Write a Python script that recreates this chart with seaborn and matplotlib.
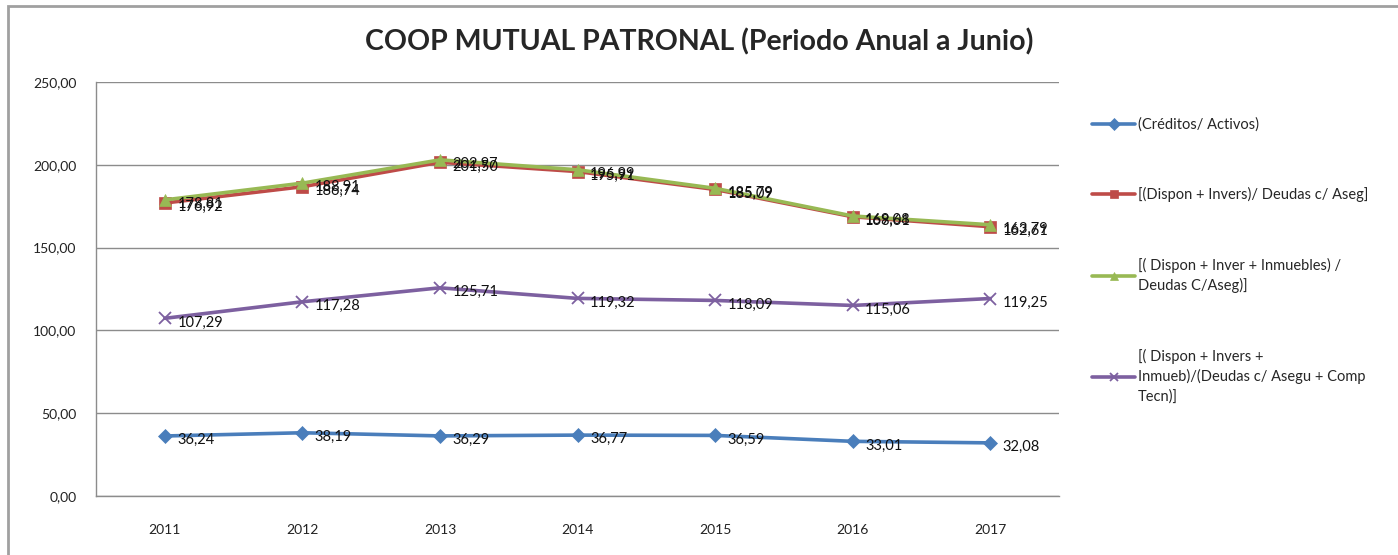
import pandas as pd
import seaborn as sns
import matplotlib.pyplot as plt
from matplotlib.patches import Rectangle
from matplotlib.ticker import FuncFormatter

years = ['2011', '2012', '2013', '2014', '2015', '2016', '2017']

creditos_activos = [36.24, 38.19, 36.29, 36.77, 36.59, 33.01, 32.08]
dispon_invers = [176.92, 186.74, 201.50, 195.91, 185.09, 168.61, 162.61]
dispon_inver_inmuebles = [178.81, 188.91, 202.97, 196.99, 185.79, 169.08, 163.79]
dispon_invers_inmueb_comp = [107.29, 117.28, 125.71, 119.32, 118.09, 115.06, 119.25]

series_names = [
    '(Créditos/ Activos)',
    '[(Dispon + Invers)/ Deudas c/ Aseg]',
    '[( Dispon + Inver + Inmuebles) /\nDeudas C/Aseg)]',
    '[( Dispon + Invers +\nInmueb)/(Deudas c/ Asegu + Comp\nTecn)]',
]
series_values = [creditos_activos, dispon_invers, dispon_inver_inmuebles, dispon_invers_inmueb_comp]
colors = ['#4A7EBB', '#BE4B48', '#98B954', '#7D60A0']
markers = ['D', 's', '^', 'x']
msizes = [7, 8, 9, 9]

rows = []
for name, vals in zip(series_names, series_values):
    for i, v in enumerate(vals):
        rows.append({'pos': i, 'year': years[i], 'value': v, 'serie': name})
df = pd.DataFrame(rows)

sns.set_style('white')
plt.rcParams['font.family'] = ['Lato', 'DejaVu Sans']

fig = plt.figure(figsize=(13.98, 5.55), dpi=100)
ax = fig.add_axes([0.0687, 0.1063, 0.6888, 0.746])

for name, vals, c, m, ms in zip(series_names, series_values, colors, markers, msizes):
    sub = df[df['serie'] == name]
    sns.lineplot(data=sub, x='pos', y='value', ax=ax, color=c, marker=m,
                 markersize=ms, linewidth=2.6, label=name,
                 markeredgecolor=c, markeredgewidth=1.3 if m == 'x' else 0.5)
    for x, v in zip(sub['pos'], sub['value']):
        ax.annotate(f'{v:.2f}'.replace('.', ','), (x, v), xytext=(9, -3),
                    textcoords='offset points', ha='left', va='center',
                    fontsize=10.5, color='#111111')

ax.set_xlim(-0.5, 6.5)
ax.set_ylim(0, 250)
ax.set_yticks([0, 50, 100, 150, 200, 250])
ax.yaxis.set_major_formatter(FuncFormatter(lambda v, p: f'{v:.2f}'.replace('.', ',')))
ax.set_xticks(range(len(years)))
ax.set_xticklabels(years)
ax.set_xlabel('')
ax.set_ylabel('')
ax.grid(axis='y', color='#8C8C8C', linewidth=1)
ax.set_axisbelow(True)
for side in ['top', 'right']:
    ax.spines[side].set_visible(False)
for side in ['left', 'bottom']:
    ax.spines[side].set_color('#8C8C8C')
    ax.spines[side].set_linewidth(1)
ax.tick_params(axis='y', labelsize=10, pad=14, length=0, labelcolor='#222222')
ax.tick_params(axis='x', labelsize=10, pad=20, length=0, labelcolor='#222222')

handles, labels = ax.get_legend_handles_labels()
leg = ax.legend(handles, labels, loc='upper left', bbox_to_anchor=(0.772, 0.812),
                bbox_transform=fig.transFigure, frameon=False, fontsize=10.5,
                handlelength=2.9, handletextpad=0.2, labelspacing=3.8)
for t in leg.get_texts():
    t.set_linespacing(1.45)
for h in leg.legend_handles:
    h.set_markersize(6)

fig.text(0.5, 0.925, 'COOP MUTUAL PATRONAL (Periodo Anual a Junio)',
         ha='center', va='center', fontsize=20.5, fontweight='bold')

fig.patches.append(Rectangle((0.006, -0.1), 1.2, 1.1 - 6 / 555,
                             transform=fig.transFigure, fill=False,
                             edgecolor='#A0A0A0', linewidth=2))

fig.savefig('out.png', dpi=100)
